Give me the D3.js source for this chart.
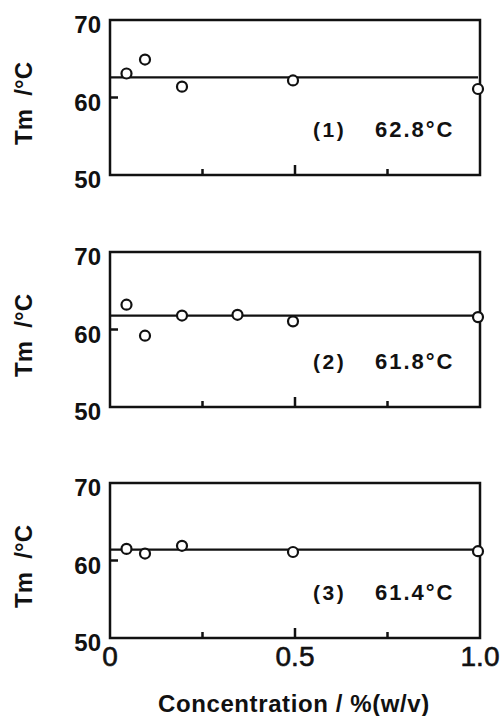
<!DOCTYPE html>
<html>
<head>
<meta charset="utf-8">
<script src="https://cdn.jsdelivr.net/npm/d3@7"></script>
<style>
  body { margin: 0; background: #fff; }
  text { font-family: "Liberation Sans", Arial, sans-serif; font-weight: bold; fill: #111; white-space: pre; }
  text.xlab { font-weight: normal; }
</style>
</head>
<body>
<div id="chart"></div>
<script>
// data
var panelLabels = ["(1)", "(2)", "(3)"];
var meanLabels = ["62.8°C", "61.8°C", "61.4°C"];
var meanValues = [62.6, 61.8, 61.4];
var conc1 = [0.05, 0.1, 0.2, 0.5, 1.0];
var tm1 = [63.1, 64.9, 61.4, 62.2, 61.1];
var conc2 = [0.05, 0.1, 0.2, 0.35, 0.5, 1.0];
var tm2 = [63.2, 59.2, 61.8, 61.9, 61.05, 61.6];
var conc3 = [0.05, 0.1, 0.2, 0.5, 1.0];
var tm3 = [61.5, 60.9, 61.9, 61.1, 61.2];
var yTicks = [50, 60, 70];
var xTicks = [0, 0.5, 1.0];

var concs = [conc1, conc2, conc3];
var tms = [tm1, tm2, tm3];

var width = 501, height = 716;
var svg = d3.select("#chart")
  .append("svg")
  .attr("width", width)
  .attr("height", height);

var x = d3.scaleLinear().domain([0, 1]).range([108, 478]);
var panelTops = [20, 252, 483];
var panelH = 155;

panelTops.forEach(function (top, i) {
  var y = d3.scaleLinear().domain([50, 70]).range([top + panelH, top]);
  var g = svg.append("g");

  // frame
  g.append("rect")
    .attr("x", x(0) + 2)
    .attr("y", y(70))
    .attr("width", x(1) - x(0))
    .attr("height", y(50) - y(70))
    .attr("fill", "none")
    .attr("stroke", "#111")
    .attr("stroke-width", 2.5);

  // y tick at 60, pointing in
  g.append("line")
    .attr("x1", x(0) + 2).attr("x2", x(0) + 10)
    .attr("y1", y(60)).attr("y2", y(60))
    .attr("stroke", "#111").attr("stroke-width", 2.5);

  // x ticks pointing up
  [0.25, 0.5, 0.75].forEach(function (t) {
    g.append("line")
      .attr("x1", x(t) + 2).attr("x2", x(t) + 2)
      .attr("y1", y(50)).attr("y2", y(50) - (t == 0.5 ? 10 : 6))
      .attr("stroke", "#111").attr("stroke-width", 2.5);
  });

  g.selectAll(".ylab")
    .data(yTicks)
    .enter().append("text")
    .attr("x", 101)
    .attr("y", function (d) { return y(d) + 13; })
    .attr("text-anchor", "end")
    .attr("font-size", 24)
    .text(function (d) { return d; });

  g.append("text")
    .attr("transform", "translate(32," + (top + panelH / 2 + 6) + ") rotate(-90)")
    .attr("text-anchor", "middle")
    .attr("font-size", 24)
    .text("Tm  /°C");

  // mean line
  g.append("line")
    .attr("x1", x(0) + 2).attr("x2", x(1))
    .attr("y1", y(meanValues[i])).attr("y2", y(meanValues[i]))
    .attr("stroke", "#111").attr("stroke-width", 2.2);

  g.selectAll("circle")
    .data(concs[i])
    .enter().append("circle")
    .attr("cx", function (d) { return x(d); })
    .attr("cy", function (d, j) { return y(tms[i][j]); })
    .attr("r", 5)
    .attr("fill", "#fff")
    .attr("stroke", "#111")
    .attr("stroke-width", 2.2);

  g.append("text")
    .attr("x", 313)
    .attr("y", top + 117)
    .attr("font-size", 21)
    .attr("letter-spacing", 2.5)
    .text(panelLabels[i]);

  g.append("text")
    .attr("x", 375)
    .attr("y", top + 117)
    .attr("font-size", 22)
    .attr("letter-spacing", 2)
    .text(meanLabels[i]);
});

svg.selectAll(".xlab")
  .data(xTicks)
  .enter().append("text")
  .attr("class", "xlab")
  .attr("x", function (d) { return x(d) + 2; })
  .attr("y", 666)
  .attr("text-anchor", "middle")
  .attr("font-size", 28)
  .attr("stroke", "#111")
  .attr("stroke-width", 0.6)
  .text(function (d) { return d == 0 ? "0" : d.toFixed(1); });

svg.append("text")
  .attr("x", 158)
  .attr("y", 712)
  .attr("font-size", 24)
  .attr("letter-spacing", 0.6)
  .text("Concentration / %(w/v)");
</script>
</body>
</html>
